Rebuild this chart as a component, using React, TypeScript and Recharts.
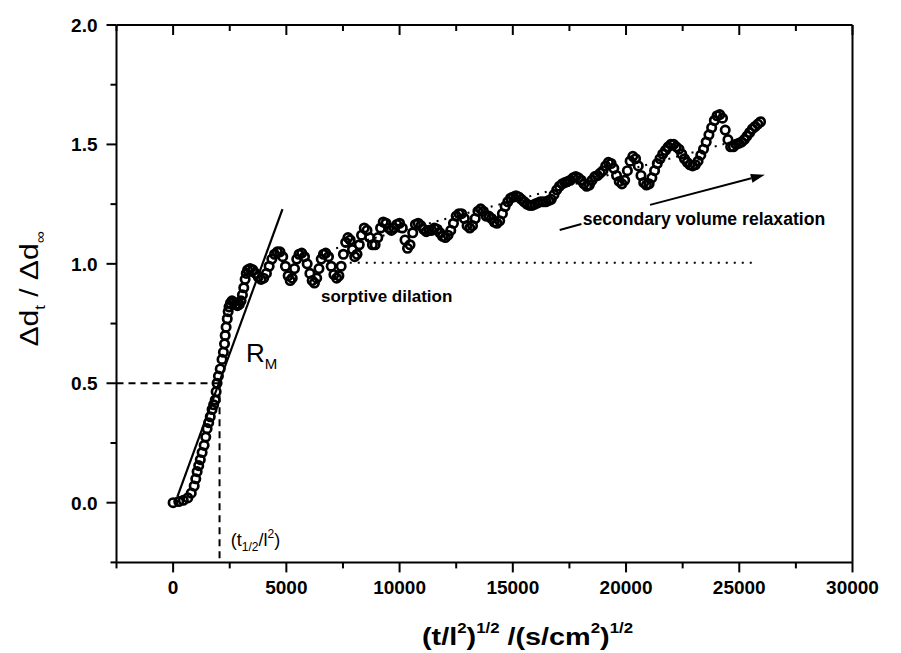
import React from "react";
import {
  ScatterChart,
  Scatter,
  XAxis,
  YAxis,
  ReferenceLine,
  ReferenceDot,
  Label,
} from "recharts";

// (t/l^2)^1/2 vs normalised thickness change
const sorption: [number, number][] = [
  [0, 0], [250, 0.005], [450, 0.01], [650, 0.02], [800, 0.04], [930, 0.07],
  [1000, 0.1], [1060, 0.13], [1130, 0.155], [1200, 0.18], [1280, 0.21],
  [1370, 0.24], [1440, 0.275], [1500, 0.31], [1570, 0.335], [1640, 0.36],
  [1720, 0.39], [1790, 0.41], [1860, 0.43], [1900, 0.465], [1940, 0.5],
  [2000, 0.53], [2080, 0.56], [2160, 0.6], [2220, 0.63], [2270, 0.665],
  [2300, 0.7], [2340, 0.735], [2390, 0.77], [2430, 0.8], [2470, 0.82],
  [2530, 0.835], [2600, 0.845], [2680, 0.84], [2760, 0.83], [2840, 0.825],
  [2920, 0.83], [3000, 0.845], [3060, 0.87], [3120, 0.9], [3180, 0.935],
  [3230, 0.96], [3290, 0.975], [3400, 0.98], [3520, 0.975], [3640, 0.96],
  [3760, 0.945], [3880, 0.935], [4000, 0.94], [4120, 0.96], [4240, 0.99],
  [4360, 1.02], [4480, 1.04], [4600, 1.05], [4720, 1.05], [4840, 1.03],
  [4960, 0.99], [5080, 0.95], [5170, 0.93], [5260, 0.94], [5360, 0.98],
  [5460, 1.02], [5560, 1.04], [5680, 1.045], [5800, 1.03], [5920, 1.0],
  [6040, 0.96], [6140, 0.93], [6240, 0.92], [6340, 0.94], [6440, 0.98],
  [6540, 1.02], [6640, 1.04], [6740, 1.045], [6860, 1.03], [6980, 0.99],
  [7100, 0.955], [7220, 0.94], [7320, 0.95], [7420, 0.99], [7520, 1.04],
  [7620, 1.09], [7720, 1.11], [7820, 1.1], [7920, 1.06], [8020, 1.03],
  [8120, 1.04], [8220, 1.08], [8320, 1.12], [8440, 1.15], [8560, 1.14],
  [8680, 1.11], [8800, 1.08], [8920, 1.08], [9040, 1.11], [9160, 1.15],
  [9280, 1.175], [9400, 1.17], [9520, 1.15], [9640, 1.14], [9760, 1.15],
  [9880, 1.165], [10000, 1.17], [10120, 1.15], [10240, 1.1], [10350, 1.065],
  [10460, 1.08], [10580, 1.13], [10700, 1.165], [10820, 1.17], [10940, 1.16],
  [11060, 1.145], [11180, 1.135], [11300, 1.14], [11420, 1.14], [11540, 1.15],
  [11660, 1.145], [11780, 1.13], [11900, 1.115], [12020, 1.11], [12140, 1.12],
  [12260, 1.14], [12380, 1.17], [12500, 1.2], [12620, 1.21], [12740, 1.21],
  [12860, 1.19], [12980, 1.16], [13100, 1.15], [13220, 1.16], [13340, 1.19],
  [13460, 1.22], [13580, 1.23], [13700, 1.22], [13820, 1.2], [13940, 1.2],
  [14060, 1.19], [14180, 1.175], [14300, 1.17], [14420, 1.18], [14540, 1.21],
  [14660, 1.24], [14780, 1.26], [14900, 1.275], [15020, 1.28], [15140, 1.285],
  [15260, 1.28], [15380, 1.27], [15500, 1.26], [15620, 1.25], [15740, 1.245],
  [15860, 1.245], [15980, 1.25], [16100, 1.255], [16220, 1.26], [16340, 1.26],
  [16460, 1.26], [16580, 1.265], [16700, 1.27], [16820, 1.29], [16940, 1.31],
  [17060, 1.325], [17180, 1.335], [17300, 1.34], [17420, 1.345], [17540, 1.35],
  [17660, 1.36], [17780, 1.365], [17900, 1.36], [18020, 1.35], [18140, 1.335],
  [18260, 1.325], [18380, 1.33], [18500, 1.35], [18620, 1.365], [18740, 1.37],
  [18860, 1.38], [18980, 1.39], [19100, 1.41], [19220, 1.425], [19340, 1.42],
  [19460, 1.4], [19580, 1.37], [19700, 1.345], [19820, 1.335], [19940, 1.35],
  [20060, 1.39], [20180, 1.43], [20300, 1.45], [20420, 1.44], [20540, 1.41],
  [20660, 1.37], [20780, 1.34], [20900, 1.33], [21020, 1.335], [21140, 1.36],
  [21260, 1.39], [21380, 1.42], [21500, 1.44], [21620, 1.46], [21740, 1.475],
  [21860, 1.49], [21980, 1.5], [22100, 1.5], [22220, 1.49], [22340, 1.48],
  [22460, 1.46], [22580, 1.44], [22700, 1.425], [22820, 1.415], [22940, 1.41],
  [23060, 1.415], [23180, 1.43], [23300, 1.455], [23420, 1.48], [23540, 1.51],
  [23660, 1.54], [23780, 1.57], [23900, 1.6], [24020, 1.62], [24140, 1.625],
  [24260, 1.61], [24380, 1.56], [24500, 1.52], [24620, 1.49], [24740, 1.49],
  [24860, 1.5], [24980, 1.505], [25100, 1.51], [25220, 1.52], [25340, 1.535],
  [25460, 1.55], [25580, 1.565], [25700, 1.575], [25820, 1.585], [25940, 1.595],
];

const xDomain = [-2500, 30000];
const xTicks = [-2500, 0, 2500, 5000, 7500, 10000, 12500, 15000, 17500, 20000, 22500, 25000, 27500, 30000];
const yTicks = [-0.25, 0, 0.25, 0.5, 0.75, 1, 1.25, 1.5, 1.75, 2];

// guide lines
const rmLine = [{ x: 190, y: 0.025 }, { x: 4830, y: 1.229 }];
const halfX = 2050;
const plateauLine = [{ x: 7800, y: 1.005 }, { x: 25600, y: 1.005 }];
const trendLine = [{ x: 7200, y: 1.065 }, { x: 25000, y: 1.519 }];
const arrowTail = [{ x: 17070, y: 1.142 }, { x: 18030, y: 1.167 }];
const arrowHead = [{ x: 21060, y: 1.247 }, { x: 26130, y: 1.373 }];

const data = sorption.map(([x, y]) => ({ x, y }));

const FONT = "'Liberation Sans', Arial, sans-serif";
const PLOT_W = 736;

const isMajorX = (v: number) => v % 5000 === 0 && v >= 0;

const BottomTick = (p: any) => {
  const v = p.payload.value;
  const major = isMajorX(v);
  return (
    <g>
      <line x1={p.x} x2={p.x} y1={p.y} y2={p.y + (major ? 10 : 6)} stroke="#000" strokeWidth={2} />
      {major && (
        <text x={p.x} y={p.y + 32} textAnchor="middle" fontSize={19} fontWeight="bold" fontFamily={FONT}>
          {v}
        </text>
      )}
    </g>
  );
};

const LeftTick = (p: any) => {
  const v = p.payload.value;
  const major = Math.abs(v * 2 - Math.round(v * 2)) < 1e-6;
  // the 2.0 tick also draws the top frame with its inward ticks
  const top =
    v === 2 ? (
      <g>
        <line x1={p.x} x2={p.x + PLOT_W} y1={p.y} y2={p.y} stroke="#000" strokeWidth={2} />
        {xTicks.map((t) => {
          const tx = p.x + ((t - xDomain[0]) / (xDomain[1] - xDomain[0])) * PLOT_W;
          return (
            <line key={t} x1={tx} x2={tx} y1={p.y} y2={p.y + (isMajorX(t) ? 10 : 6)} stroke="#000" strokeWidth={2} />
          );
        })}
      </g>
    ) : null;
  return (
    <g>
      {top}
      <line x1={p.x} x2={p.x - (major ? 10 : 6)} y1={p.y} y2={p.y} stroke="#000" strokeWidth={2} />
      {major && (
        <text x={p.x - 19} y={p.y + 7} textAnchor="end" fontSize={19} fontWeight="bold" fontFamily={FONT}>
          {v.toFixed(1)}
        </text>
      )}
    </g>
  );
};

const Ring = (p: any) => (
  <circle cx={p.cx} cy={p.cy} r={4.2} fill="none" stroke="#000" strokeWidth={2.7} />
);

const Arrow = (p: any) => {
  const { x1, y1, x2, y2 } = p;
  const a = Math.atan2(y2 - y1, x2 - x1);
  const L = 14;
  const w = 4.5;
  const bx = x2 - L * Math.cos(a);
  const by = y2 - L * Math.sin(a);
  const nx = -Math.sin(a) * w;
  const ny = Math.cos(a) * w;
  return (
    <g>
      <line x1={x1} y1={y1} x2={bx} y2={by} stroke="#000" strokeWidth={2} />
      <polygon points={`${x2},${y2} ${bx + nx},${by + ny} ${bx - nx},${by - ny}`} fill="#000" />
    </g>
  );
};

const TextAt = (txt: React.ReactNode, size: number, weight: string) => (p: any) => (
  <text x={p.cx} y={p.cy} fontSize={size} fontWeight={weight} fontFamily={FONT}>
    {txt}
  </text>
);

const App = () => {
  return (
    <div style={{ width: 885, height: 645 }}>
      <ScatterChart width={885} height={645} margin={{ top: 17, right: 39.5, bottom: 0, left: 0 }}>
        <XAxis
          xAxisId="b"
          type="number"
          dataKey="x"
          domain={xDomain}
          ticks={xTicks}
          interval={0}
          height={90.6}
          tickSize={0}
          tickMargin={0}
          tickLine={false}
          tick={<BottomTick />}
          axisLine={{ stroke: "#000", strokeWidth: 2 }}
          allowDataOverflow
        >
          <Label
            content={(p: any) => {
              const vb = p.viewBox;
              const cx = 519.5;
              const by = vb.y + 82.6;
              return (
                <text
                  transform={`translate(${cx} ${by}) scale(1.2 1)`}
                  x={0}
                  y={0}
                  textAnchor="middle"
                  fontSize={24}
                  fontWeight="bold"
                  fontFamily={FONT}
                >
                  (t/l<tspan dy={-12} fontSize={14}>2</tspan>
                  <tspan dy={12}>)</tspan>
                  <tspan dy={-12} fontSize={14}>1/2</tspan>
                  <tspan dy={12}> /(s/cm</tspan>
                  <tspan dy={-12} fontSize={14}>2</tspan>
                  <tspan dy={12}>)</tspan>
                  <tspan dy={-12} fontSize={14}>1/2</tspan>
                </text>
              );
            }}
          />
        </XAxis>
        <YAxis
          yAxisId="l"
          type="number"
          dataKey="y"
          domain={[-0.25, 2]}
          ticks={yTicks}
          interval={0}
          width={108.5}
          tickSize={0}
          tickMargin={0}
          tickLine={false}
          tick={<LeftTick />}
          axisLine={{ stroke: "#000", strokeWidth: 2 }}
          allowDataOverflow
        >
          <Label
            content={() => {
              const cx = 30;
              const cy = 281;
              return (
                <text
                  transform={`translate(${cx} ${cy}) rotate(-90) scale(1.2 1)`}
                  x={0}
                  y={0}
                  textAnchor="middle"
                  fontSize={25}
                  fontFamily={FONT}
                >
                  Δd<tspan dy={7} fontSize={14}>t</tspan>
                  <tspan dy={-7}> / Δd</tspan>
                  <tspan dy={7} fontSize={14}>∞</tspan>
                </text>
              );
            }}
          />
        </YAxis>
        <YAxis
          yAxisId="r"
          orientation="right"
          type="number"
          domain={[-0.25, 2]}
          width={1}
          tick={false}
          tickLine={false}
          axisLine={{ stroke: "#000", strokeWidth: 2 }}
          allowDataOverflow
        />

        <ReferenceLine xAxisId="b" yAxisId="l" segment={rmLine} stroke="#000" strokeWidth={2.2} />
        <ReferenceLine
          xAxisId="b"
          yAxisId="l"
          segment={[{ x: -2500, y: 0.5 }, { x: halfX, y: 0.5 }]}
          stroke="#000"
          strokeWidth={2}
          strokeDasharray="7 5"
          ifOverflow="visible"
        />
        <ReferenceLine
          xAxisId="b"
          yAxisId="l"
          segment={[{ x: halfX, y: 0.5 }, { x: halfX, y: -0.25 }]}
          stroke="#000"
          strokeWidth={2}
          strokeDasharray="7 5"
          ifOverflow="visible"
        />
        <ReferenceLine xAxisId="b" yAxisId="l" segment={plateauLine} stroke="#000" strokeWidth={2} strokeDasharray="2 6" />
        <ReferenceLine xAxisId="b" yAxisId="l" segment={trendLine} stroke="#000" strokeWidth={2} strokeDasharray="2 6" />
        <ReferenceLine xAxisId="b" yAxisId="l" segment={arrowTail} stroke="#000" strokeWidth={2} />
        <ReferenceLine xAxisId="b" yAxisId="l" segment={arrowHead} stroke="#000" shape={Arrow} />

        <Scatter xAxisId="b" yAxisId="l" data={data} shape={Ring} isAnimationActive={false} />

        <ReferenceDot
          xAxisId="b"
          yAxisId="l"
          x={6530}
          y={0.842}
          r={0}
          shape={TextAt("sorptive dilation", 17, "bold")}
        />
        <ReferenceDot
          xAxisId="b"
          yAxisId="l"
          x={18085}
          y={1.163}
          r={0}
          shape={TextAt("secondary volume relaxation", 17.6, "bold")}
        />
        <ReferenceDot
          xAxisId="b"
          yAxisId="l"
          x={3215}
          y={0.589}
          r={0}
          shape={TextAt(
            <>
              R<tspan dy={7} fontSize={15}>M</tspan>
            </>,
            26,
            "normal"
          )}
        />
        <ReferenceDot
          xAxisId="b"
          yAxisId="l"
          x={2550}
          y={-0.18}
          r={0}
          shape={TextAt(
            <>
              (t<tspan dy={5} fontSize={12}>1/2</tspan>
              <tspan dy={-5}>/l</tspan>
              <tspan dy={-8} fontSize={12}>2</tspan>
              <tspan dy={8}>)</tspan>
            </>,
            18,
            "normal"
          )}
        />
      </ScatterChart>
    </div>
  );
};

export default App;
